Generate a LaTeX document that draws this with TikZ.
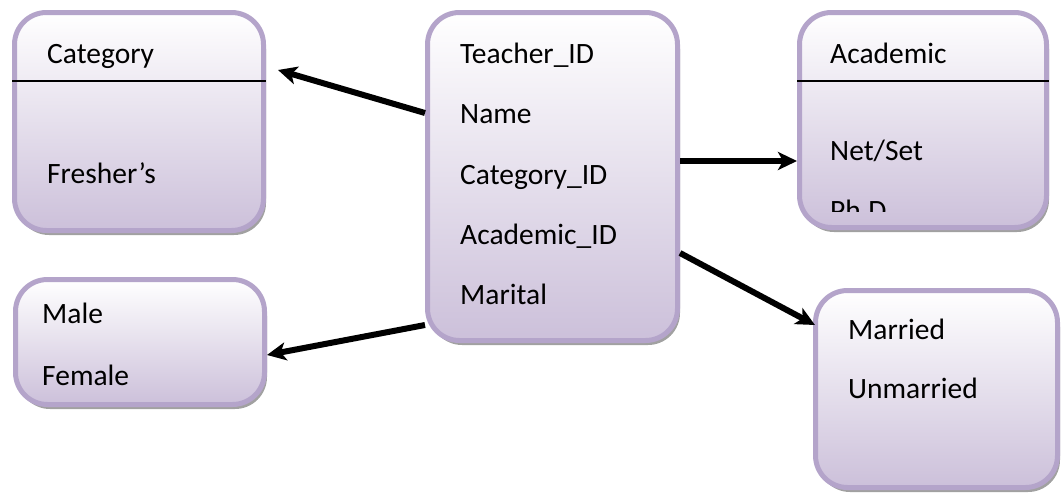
\documentclass[tikz,border=0pt]{standalone}
\usepackage{fontspec}
\setmainfont{Carlito}
\usetikzlibrary{arrows.meta, shadows}
\definecolor{lavline}{RGB}{180,164,202}
\definecolor{lavfill}{RGB}{204,192,218}
\definecolor{shadowgray}{RGB}{130,130,130}
\begin{document}
\begin{tikzpicture}[x=1pt, y=-1pt,
        box/.style={draw=lavline, line width=5pt, rounded corners=32pt,
            top color=white, bottom color=lavfill,
            drop shadow={shadow xshift=2.5pt, shadow yshift=-4.5pt, fill=shadowgray, opacity=.75}},
        txt/.style={anchor=base west, inner sep=0pt, font=\fontsize{29.5}{35}\selectfont},
        divider/.style={draw=black, line width=1.5pt},
        link/.style={line width=6pt, -{Stealth[length=19pt, width=18pt, inset=5pt]}}]
        \useasboundingbox (0,0) rectangle (1063,498);

        %boxes
        \node[box, minimum width=249pt, minimum height=218pt] (cat) at (139, 121.5) {};
        \node[box, minimum width=247pt, minimum height=215pt] (acad) at (923, 120) {};
        \node[box, minimum width=250pt, minimum height=328pt] (teach) at (552.5, 176.5) {};
        \node[box, minimum width=242pt, minimum height=197pt] (mar) at (936.5, 389) {};
        \node[box, minimum width=249pt, minimum height=125pt] (gen) at (140, 342) {};

        %dividers
        \coordinate (catsep) at (0, 81);
        \draw[divider] (cat.west |- catsep) -- (cat.east |- catsep);
        \draw[divider] (acad.west |- catsep) -- (acad.east |- catsep);

        %texts
        \node[txt] (catname) at (47, 63) {Category};
        \node[txt] (fresh) at (47, 183) {Fresher’s};
        \node[txt] (acadname) at (830, 63) {Academic};
        \node[txt] (netset) at (830, 160) {Net/Set};
        \begin{scope}
            \clip (780, 0) rectangle (1063, 211);
            \node[txt] (phd) at (830, 220) {Ph.D};
        \end{scope}
        \node[txt] (tid) at (460, 63) {Teacher\_ID};
        \node[txt] (tname) at (460, 123.5) {Name};
        \node[txt] (tcat) at (460, 184) {Category\_ID};
        \node[txt] (tacad) at (460, 244) {Academic\_ID};
        \node[txt] (tmar) at (460, 304) {Marital};
        \node[txt] (married) at (848, 339) {Married};
        \node[txt] (unmarried) at (848, 398) {Unmarried};
        \node[txt] (male) at (42, 323) {Male};
        \node[txt] (female) at (42, 385) {Female};

        %edges
        \coordinate (catin) at (278, 70);
        \coordinate (acadin) at ([yshift=-41pt]acad.west);
        \coordinate (marin) at (815, 325);
        \draw[link] ([yshift=63.5pt]teach.west) -- (catin);
        \draw[link] (teach.east |- acadin) -- (acadin);
        \draw[link] ([yshift=-76.5pt]teach.east) -- (marin);
        \draw[link] ([yshift=-148.5pt]teach.west) -- ([yshift=-13pt]gen.east);
    \end{tikzpicture}
\end{document}
